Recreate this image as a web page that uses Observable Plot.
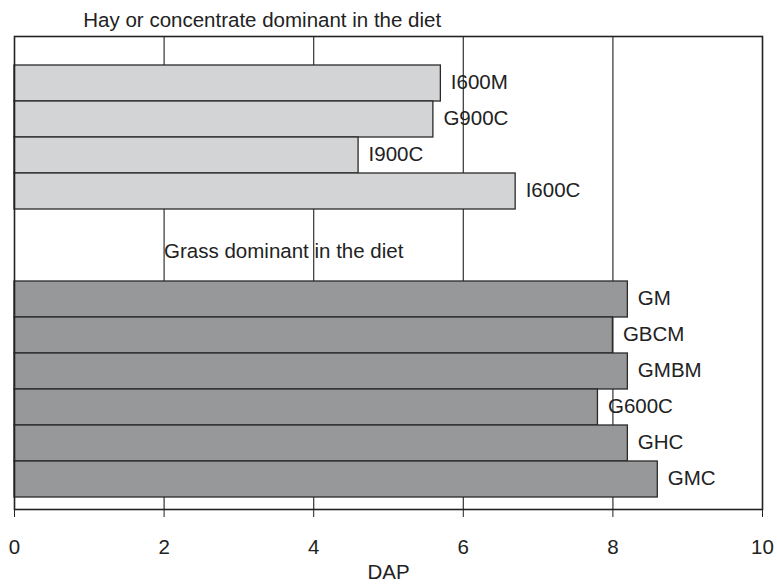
<!DOCTYPE html>
<html>
<head>
<meta charset="utf-8">
<script src="https://cdn.jsdelivr.net/npm/d3@7"></script>
<script src="https://cdn.jsdelivr.net/npm/@observablehq/plot@0.6"></script>
<style>
  html, body { margin: 0; padding: 0; background: #fff; }
  #chart svg { display: block; }
</style>
</head>
<body>
<div id="chart"></div>
<script>
// Data
const hayNames = ["I600M", "G900C", "I900C", "I600C"];
const hayValues = [5.7, 5.6, 4.6, 6.7];
const grassNames = ["GM", "GBCM", "GMBM", "G600C", "GHC", "GMC"];
const grassValues = [8.2, 8.0, 8.2, 7.8, 8.2, 8.6];
const gapSlots = ["gap1", "gap2"];
const groupTitles = ["Hay or concentrate dominant in the diet", "Grass dominant in the diet"];
const xTicks = [0, 2, 4, 6, 8, 10];
const gridTicks = [2, 4, 6, 8];
const axisTitle = "DAP";

const data = [
  ...hayNames.map((n, i) => ({name: n, value: hayValues[i], group: "hay"})),
  ...grassNames.map((n, i) => ({name: n, value: grassValues[i], group: "grass"}))
];
const yDomain = [...hayNames, ...gapSlots, ...grassNames];

const font = "'Liberation Sans', Arial, Helvetica, sans-serif";
const fs = 20.5;

const chart = Plot.plot({
  width: 777,
  height: 584,
  marginLeft: 14,
  marginRight: 15,
  marginTop: 36,
  marginBottom: 75,
  style: {fontFamily: font, fontSize: fs + "px", color: "#222", background: "#fff"},
  x: {domain: [0, 10]},
  y: {type: "band", domain: yDomain, range: [64, 497.5], padding: 0, axis: null},
  color: {domain: ["hay", "grass"], range: ["#d3d4d6", "#979899"]},
  marks: [
    Plot.ruleX(gridTicks, {stroke: "#333", strokeWidth: 1.2}),
    Plot.barX(data, {x: "value", y: "name", fill: "group", stroke: "#2a2a2a", strokeWidth: 1.3, insetTop: 0, insetBottom: 0}),
    Plot.text(data, {x: "value", y: "name", text: "name", textAnchor: "start", dx: 10, dy: -1, fontSize: fs, fill: "#222"}),
    Plot.text([groupTitles[0]], {x: 0.92, frameAnchor: "top", textAnchor: "start", dy: -24, fontSize: fs, fill: "#222"}),
    Plot.text([{t: groupTitles[1], slot: "gap2"}], {x: 2, y: "slot", text: "t", textAnchor: "start", dy: -12, fontSize: fs, fill: "#222"}),
    Plot.axisX({ticks: xTicks, tickSize: 8, tickPadding: 22, fontSize: fs, label: null, stroke: "#222"}),
    Plot.frame({stroke: "#222", strokeWidth: 1.6}),
    Plot.text([axisTitle], {frameAnchor: "bottom", dy: 69, fontSize: fs, fill: "#222"})
  ]
});
document.getElementById("chart").appendChild(chart);
</script>
</body>
</html>
